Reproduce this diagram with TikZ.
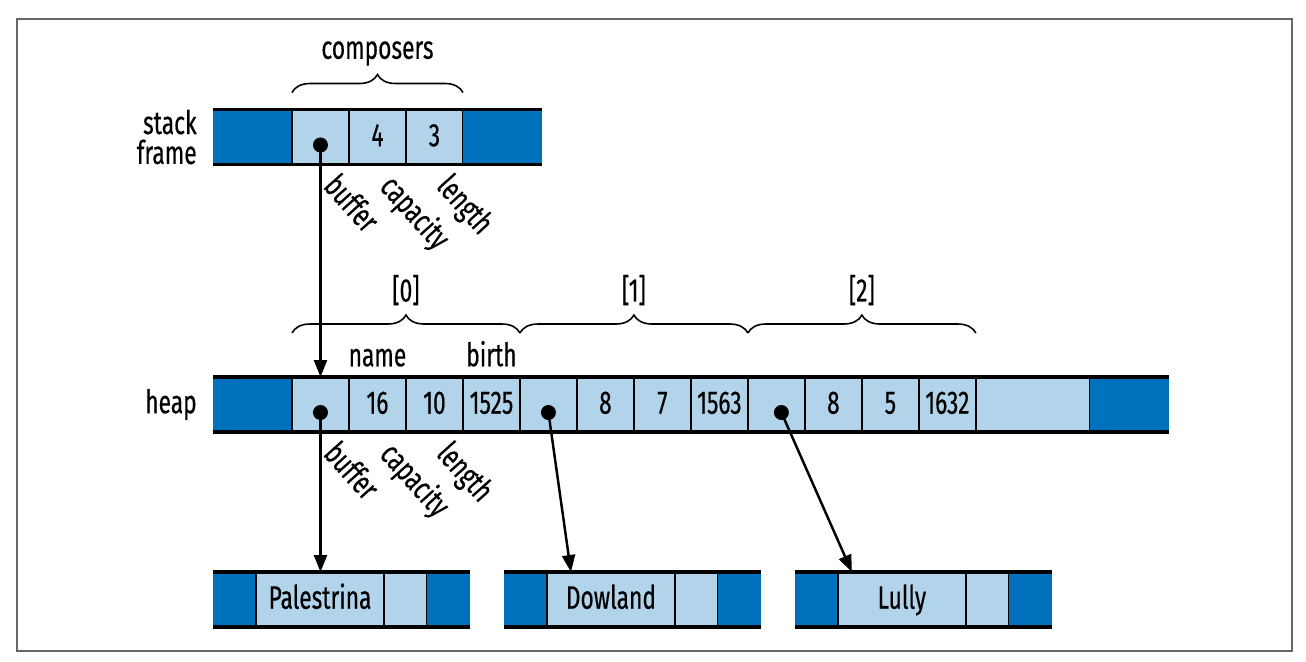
\documentclass[tikz,border=0pt]{standalone}
\usepackage{fontspec}
\setmainfont{Fira Sans}[FakeStretch=0.7, FakeBold=0.4]
\usetikzlibrary{positioning,calc,arrows.meta,decorations.pathreplacing}

\definecolor{cellblue}{RGB}{178,212,234}
\definecolor{padblue}{RGB}{0,113,188}

\tikzset{
  cell/.style={draw, line width=1.3pt, fill=cellblue, minimum width=1.14cm,
    minimum height=1.1cm, inner sep=0pt, outer sep=0pt,
    text height=1.05em, text depth=0pt},
  pad/.style={fill=padblue, minimum width=1.58cm, minimum height=1.1cm,
    inner sep=0pt, outer sep=0pt},
  rail/.style={line width=1.9pt},
  ptr/.style={line width=1.4pt, -{Triangle[length=0.34cm,width=0.26cm]}},
  brace/.style={line width=0.9pt, decorate,
    decoration={brace, amplitude=0.36cm}},
  field/.style={rotate=-48, anchor=north west, inner sep=0pt},
  lbl/.style={inner sep=0pt},
}

\begin{document}
\begin{tikzpicture}[x=0.02cm, y=-0.02cm, font=\fontsize{18.5}{17}\selectfont]
      \useasboundingbox (0,0) rectangle (1306,662);
      \draw[line width=0.9pt, black!60] (17,19) rectangle (1292,651);
      % Stack frame
      \node[pad] (s0) at (252.5,137) {};
      \foreach \v [count=\i, evaluate=\i as \j using int(\i-1)] in {{},4,3}
        \node[cell, right=0pt of s\j] (s\i) {\v};
      \node[pad, right=0pt of s3] (sR) {};
      \draw[rail] (s0.north west) -- (sR.north east);
      \draw[rail] (s0.south west) -- (sR.south east);
      \node[lbl, left=0.32cm of s0, align=right] (stk) {stack\\frame};
      \draw[brace] ($(s1.north west)+(0,-17)$) -- ($(s3.north east)+(0,-17)$)
        node[lbl, midway, above=0.52cm] (comp) {composers};
      \node[field] (sbuf) at ($(s1.south)+(20,6)$) {buffer};
      \node[field] (scap) at ($(s2.south)+(20,6)$) {capacity};
      \node[field] (slen) at ($(s3.south)+(19,6)$) {length};
      % Heap
      \node[pad] (h0) at (252.5,404.5) {};
      \foreach \v [count=\i, evaluate=\i as \j using int(\i-1)] in
          {{},16,10,1525,{},8,7,1563,{},8,5,1632}
        \node[cell, right=0pt of h\j] (h\i) {\v};
      \node[cell, minimum width=2.28cm, right=0pt of h12] (h13) {};
      \node[pad, right=0pt of h13] (hR) {};
      \draw[rail] (h0.north west) -- (hR.north east);
      \draw[rail] (h0.south west) -- (hR.south east);
      \node[lbl, left=0.32cm of h0] (hp) {heap};
      \node[lbl, above=0.2cm of h2] (nm) {name};
      \node[lbl, above=0.2cm of h4] (bt) {birth};
      \node[field] (hbuf) at ($(h1.south)+(20,6)$) {buffer};
      \node[field] (hcap) at ($(h2.south)+(20,6)$) {capacity};
      \node[field] (hlen) at ($(h3.south)+(19,6)$) {length};
      % Elements [0] [1] [2]
      \foreach \a/\b/\k in {1/4/0, 5/8/1, 9/12/2}
        \draw[brace] ($(h\a.north west)+(0,-44)$) -- ($(h\b.north east)+(0,-44)$)
          node[lbl, midway, above=0.54cm] (e\k) {[\k]};
      % Strings
      \node[pad, minimum width=0.86cm] (p0) at (234.5,599.5) {};
      \node[cell, minimum width=2.56cm, right=0pt of p0] (pal) {Palestrina};
      \node[cell, minimum width=0.86cm, right=0pt of pal] (p2) {};
      \node[pad, minimum width=0.86cm, right=0pt of p2] (p3) {};
      \node[pad, minimum width=0.86cm, right=0.68cm of p3] (d0) {};
      \node[cell, minimum width=2.56cm, right=0pt of d0] (dow) {Dowland};
      \node[cell, minimum width=0.86cm, right=0pt of dow] (d2) {};
      \node[pad, minimum width=0.86cm, right=0pt of d2] (d3) {};
      \node[pad, minimum width=0.86cm, right=0.68cm of d3] (l0) {};
      \node[cell, minimum width=2.56cm, right=0pt of l0] (lul) {Lully};
      \node[cell, minimum width=0.86cm, right=0pt of lul] (l2) {};
      \node[pad, minimum width=0.86cm, right=0pt of l2] (l3) {};
      \foreach \n in {p,d,l} {
        \draw[rail] (\n0.north west) -- (\n3.north east);
        \draw[rail] (\n0.south west) -- (\n3.south east);
      }
      % Pointers
      \coordinate (sp) at ($(s1.center)+(0,8)$);
      \coordinate (hp1) at ($(h1.center)+(0,8)$);
      \coordinate (hp5) at ($(h5.center)+(0,8)$);
      \coordinate (hp9) at ($(h9.center)+(5,8)$);
      \coordinate (tdow) at ($(dow.north west)+(24,0)$);
      \coordinate (tlul) at ($(lul.north west)+(14,0)$);
      \draw[ptr] (sp) -- (sp |- h1.north);
      \draw[ptr] (hp1) -- (hp1 |- pal.north);
      \draw[ptr] (hp5) -- (tdow);
      \draw[ptr] (hp9) -- (tlul);
      \foreach \p in {sp,hp1,hp5,hp9}
        \fill (\p) circle (0.15cm);
    \end{tikzpicture}
\end{document}
